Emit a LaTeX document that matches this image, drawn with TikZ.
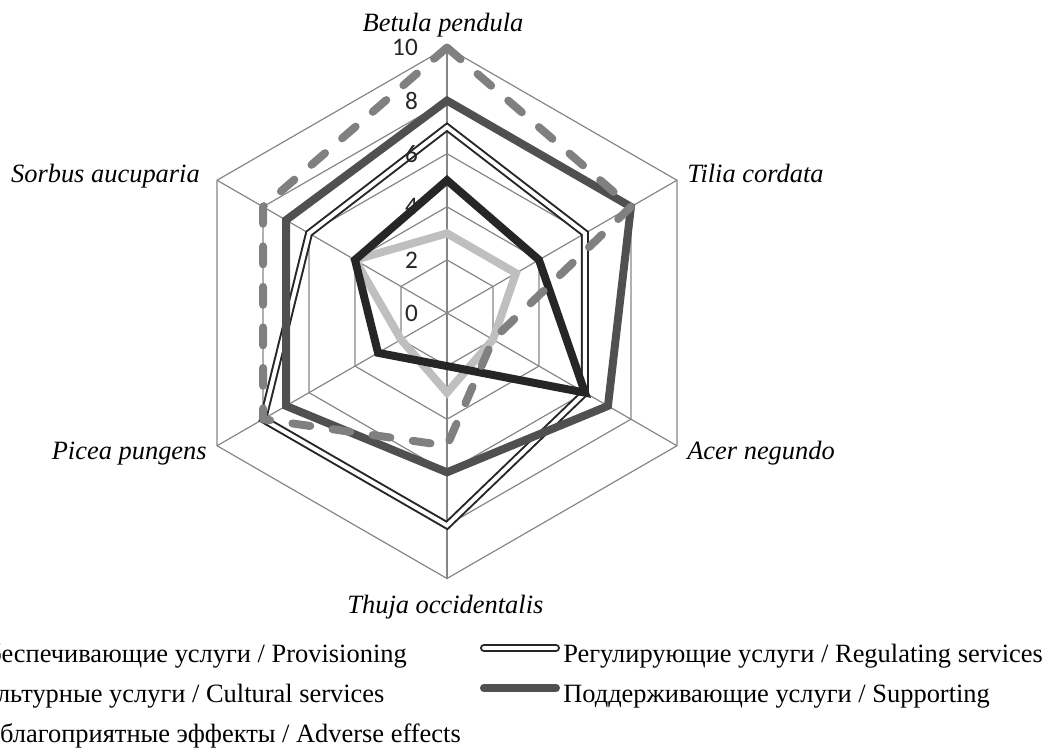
\documentclass[tikz,border=0pt]{standalone}
\usepackage{fontspec}
\setmainfont{Liberation Serif}
\newfontfamily\calibri{Carlito}
\usetikzlibrary{positioning}
\definecolor{gridgray}{HTML}{868686}
\definecolor{provgray}{HTML}{BFBFBF}
\definecolor{regdark}{HTML}{262626}
\definecolor{cultdark}{HTML}{262626}
\definecolor{suppgray}{HTML}{505050}
\definecolor{advgray}{HTML}{808080}

\begin{document}
\begin{tikzpicture}[x=0.7025cm,y=0.7025cm,
      gridline/.style={draw=gridgray,line width=0.9pt},
      prov/.style={draw=provgray,line width=6pt},
      regul/.style={draw=regdark,line width=1.5pt,double=white,double distance=3pt},
      cult/.style={draw=cultdark,line width=6pt},
      supp/.style={draw=suppgray,line width=6pt},
      adv/.style={draw=advgray,line width=6pt,line cap=round,line join=round,dash pattern=on 13.5pt off 17pt},
      lbl/.style={inner sep=0pt,font=\fontsize{19.9}{24}\selectfont\itshape},
      ticklbl/.style={inner sep=0pt,anchor=east,text=black!85,font=\fontsize{19}{23}\selectfont\calibri},
      leg/.style={inner sep=0pt,anchor=base west,font=\fontsize{19.9}{24}\selectfont}
    ]
      \useasboundingbox (-16.836,-16.610) rectangle (22.712,11.789);
      \clip (-16.836,-16.610) rectangle (22.712,11.789);
      % grid
      \foreach \r in {2,4,...,10}
        \draw[gridline] (90:\r) -- (30:\r) -- (-30:\r) -- (-90:\r) -- (210:\r) -- (150:\r) -- cycle;
      \foreach \a in {90,30,-30,-90,210,150}
        \draw[gridline] (0,0) -- (\a:10);
      % series
      \draw[prov] (90:3) -- (30:3) -- (-30:2) -- (-90:3) -- (210:2) -- (150:4) -- cycle;
      \draw[regul] (90:7) -- (30:6) -- (-30:6) -- (-90:8) -- (210:8) -- (150:6) -- cycle;
      \draw[cult] (90:5) -- (30:4) -- (-30:6) -- (-90:2) -- (210:3) -- (150:4) -- cycle;
      \draw[supp] (90:8) -- (30:8) -- (-30:7) -- (-90:6) -- (210:7) -- (150:7) -- cycle;
      \draw[adv] (90:10) -- (30:8) -- (-30:2) -- (-90:5) -- (210:8) -- (150:8) -- cycle;
      % scale numbers on top
      \foreach \v in {0,2,...,10}
        \node[ticklbl] (t\v) at (-1.09,\v) {\v};
      % axis labels
      \node[lbl,anchor=base] (betula) at (-0.15,10.62) {Betula pendula};
      \node[lbl,anchor=base west] (tilia) at (9.04,4.90) {Tilia cordata};
      \node[lbl,anchor=base west] (acer) at (9.04,-5.52) {Acer negundo};
      \node[lbl,anchor=base] (thuja) at (-0.06,-11.30) {Thuja occidentalis};
      \node[lbl,anchor=base east] (picea) at (-9.04,-5.52) {Picea pungens};
      \node[lbl,anchor=base east] (sorbus) at (-9.30,4.90) {Sorbus aucuparia};
      % legend
      \node[leg] (lprov) at (-18.00,-13.145) {Обеспечивающие услуги / Provisioning};
      \node[leg] (lcult) at (-18.00,-14.652) {Культурные услуги / Cultural services};
      \node[leg] (ladv) at (-18.00,-16.158) {Неблагоприятные эффекты / Adverse effects};
      \node[leg] (lreg) at (4.369,-13.145) {Регулирующие услуги / Regulating services};
      \node[leg] (lsupp) at (4.369,-14.652) {Поддерживающие услуги / Supporting};
      \draw[regul,line cap=round] (1.394,-12.618) -- (4.105,-12.618);
      \draw[supp,line cap=round] (1.394,-14.124) -- (4.105,-14.124);
    \end{tikzpicture}
\end{document}
